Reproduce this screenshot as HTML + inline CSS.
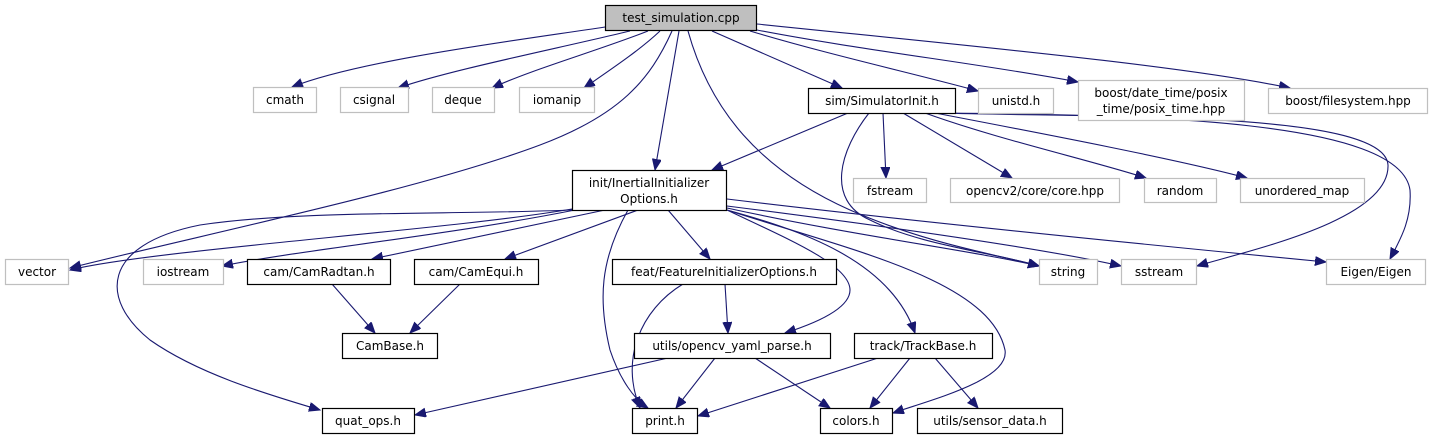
<!DOCTYPE html>
<html><head><meta charset="utf-8"><style>
html,body{margin:0;padding:0;background:#fff;}
svg{display:block;}
text{font-family:"DejaVu Sans","Liberation Sans",sans-serif;font-size:12px;fill:#000;text-anchor:middle;}
.g rect{fill:#fff;stroke:#bfbfbf;stroke-width:1.2;}
.b rect{fill:#fff;stroke:#000;stroke-width:1.2;}
path.e{fill:none;stroke:#191970;stroke-width:1.1;}
</style></head><body>
<svg width="1433" height="440" viewBox="0 0 1433 440" xmlns="http://www.w3.org/2000/svg">
<defs>
<marker id="a" markerUnits="userSpaceOnUse" markerWidth="12" markerHeight="10" refX="11" refY="4.5" orient="auto">
<path d="M0,0 L11,4.5 L0,9 Z" fill="#191970" stroke="#191970"/>
</marker>
</defs>
<g marker-end="url(#a)">
<path class="e" d="M605,27 C520,40 360,60 292,87"/>
<path class="e" d="M630,31 C560,48 450,70 398,88"/>
<path class="e" d="M648,31 C600,50 530,70 492,88"/>
<path class="e" d="M660,31 C640,50 610,70 584,88"/>
<path class="e" d="M672,31 C650,80 620,115 540,145 C420,190 200,235 70,268"/>
<path class="e" d="M679,31 L655,170"/>
<path class="e" d="M688,31 C710,110 760,170 850,210 C930,245 1000,255 1039,266"/>
<path class="e" d="M712,31 L842,88"/>
<path class="e" d="M750,31 C830,55 920,75 978,91"/>
<path class="e" d="M757,30 C860,50 990,65 1078,82"/>
<path class="e" d="M757,24 C960,45 1180,65 1290,88"/>
<path class="e" d="M848,113 L712,170"/>
<path class="e" d="M869,113 C840,150 825,200 870,220 C920,245 990,252 1039,266"/>
<path class="e" d="M883,113 L886,178"/>
<path class="e" d="M903,113 L1012,178"/>
<path class="e" d="M925,113 C1000,140 1090,160 1146,178"/>
<path class="e" d="M935,113 C1050,135 1180,160 1247,178"/>
<path class="e" d="M940,113 C1100,118 1385,110 1388,165 C1390,220 1250,250 1197,266"/>
<path class="e" d="M945,113 C1150,115 1400,120 1410,190 C1412,220 1400,240 1390,259"/>
<path class="e" d="M572,209 C450,230 150,250 70,270"/>
<path class="e" d="M572,210 C450,215 300,210 200,225 C100,245 100,300 150,340 C200,375 270,395 320,410"/>
<path class="e" d="M575,210 C450,235 300,250 222,266"/>
<path class="e" d="M605,210 L372,259"/>
<path class="e" d="M638,210 L505,259"/>
<path class="e" d="M628,210 C600,260 598,300 610,350 C620,380 635,400 648,408"/>
<path class="e" d="M668,210 L710,259"/>
<path class="e" d="M727,210 C790,240 850,265 850,290 C850,310 810,325 785,333"/>
<path class="e" d="M727,210 C800,230 890,260 915,333"/>
<path class="e" d="M727,210 C850,250 990,280 1005,350 C1010,380 930,400 893,413"/>
<path class="e" d="M727,208 C850,235 980,252 1039,266"/>
<path class="e" d="M727,206 C900,228 1050,250 1121,266"/>
<path class="e" d="M727,199 C900,220 1150,245 1326,262"/>
<path class="e" d="M725,284 L728,333"/>
<path class="e" d="M683,284 C640,310 620,360 640,408"/>
<path class="e" d="M332,284 L375,333"/>
<path class="e" d="M460,284 L410,333"/>
<path class="e" d="M668,358 L415,415"/>
<path class="e" d="M715,358 L676,408"/>
<path class="e" d="M755,358 L830,408"/>
<path class="e" d="M878,358 L698,416"/>
<path class="e" d="M910,358 L870,408"/>
<path class="e" d="M935,358 L978,408"/>
</g>
<g class="b"><rect x="605.5" y="5.5" width="151" height="25" style="fill:#bfbfbf"/><text x="681" y="22">test_simulation.cpp</text></g>
<g class="g"><rect x="253.5" y="87.5" width="63" height="25"/><text x="285" y="104">cmath</text></g>
<g class="g"><rect x="340.5" y="87.5" width="68" height="25"/><text x="374" y="104">csignal</text></g>
<g class="g"><rect x="432.5" y="87.5" width="62" height="25"/><text x="463" y="104">deque</text></g>
<g class="g"><rect x="519.5" y="87.5" width="75" height="25"/><text x="557" y="104">iomanip</text></g>
<g class="b"><rect x="808.5" y="88.5" width="147" height="25"/><text x="882" y="105">sim/SimulatorInit.h</text></g>
<g class="g"><rect x="978.5" y="88.5" width="75" height="25"/><text x="1016" y="105">unistd.h</text></g>
<g class="g"><rect x="1078.5" y="80.5" width="166" height="40"/><text x="1161" y="97">boost/date_time/posix</text><text x="1161" y="113">_time/posix_time.hpp</text></g>
<g class="g"><rect x="1268.5" y="88.5" width="159" height="25"/><text x="1348" y="105">boost/filesystem.hpp</text></g>
<g class="b"><rect x="572.5" y="170.5" width="154" height="40"/><text x="649" y="187">init/InertialInitializer</text><text x="649" y="203">Options.h</text></g>
<g class="g"><rect x="853.5" y="178.5" width="73" height="24"/><text x="890" y="195">fstream</text></g>
<g class="g"><rect x="950.5" y="178.5" width="169" height="24"/><text x="1035" y="195">opencv2/core/core.hpp</text></g>
<g class="g"><rect x="1144.5" y="178.5" width="72" height="24"/><text x="1180" y="195">random</text></g>
<g class="g"><rect x="1240.5" y="178.5" width="124" height="24"/><text x="1302" y="195">unordered_map</text></g>
<g class="g"><rect x="5.5" y="259.5" width="63" height="25"/><text x="37" y="276">vector</text></g>
<g class="g"><rect x="143.5" y="259.5" width="80" height="25"/><text x="183" y="276">iostream</text></g>
<g class="b"><rect x="247.5" y="259.5" width="143" height="25"/><text x="319" y="276">cam/CamRadtan.h</text></g>
<g class="b"><rect x="414.5" y="259.5" width="124" height="25"/><text x="476" y="276">cam/CamEqui.h</text></g>
<g class="b"><rect x="612.5" y="259.5" width="224" height="25"/><text x="724" y="276">feat/FeatureInitializerOptions.h</text></g>
<g class="g"><rect x="1039.5" y="259.5" width="58" height="25"/><text x="1068" y="276">string</text></g>
<g class="g"><rect x="1121.5" y="259.5" width="75" height="25"/><text x="1159" y="276">sstream</text></g>
<g class="g"><rect x="1326.5" y="259.5" width="99" height="25"/><text x="1376" y="276">Eigen/Eigen</text></g>
<g class="b"><rect x="342.5" y="333.5" width="95" height="25"/><text x="390" y="350">CamBase.h</text></g>
<g class="b"><rect x="634.5" y="333.5" width="196" height="25"/><text x="732" y="350">utils/opencv_yaml_parse.h</text></g>
<g class="b"><rect x="854.5" y="333.5" width="138" height="25"/><text x="923" y="350">track/TrackBase.h</text></g>
<g class="b"><rect x="322.5" y="408.5" width="92" height="25"/><text x="368" y="425">quat_ops.h</text></g>
<g class="b"><rect x="632.5" y="408.5" width="65" height="25"/><text x="665" y="425">print.h</text></g>
<g class="b"><rect x="820.5" y="408.5" width="72" height="25"/><text x="856" y="425">colors.h</text></g>
<g class="b"><rect x="917.5" y="408.5" width="145" height="25"/><text x="990" y="425">utils/sensor_data.h</text></g>
</svg>
</body></html>
